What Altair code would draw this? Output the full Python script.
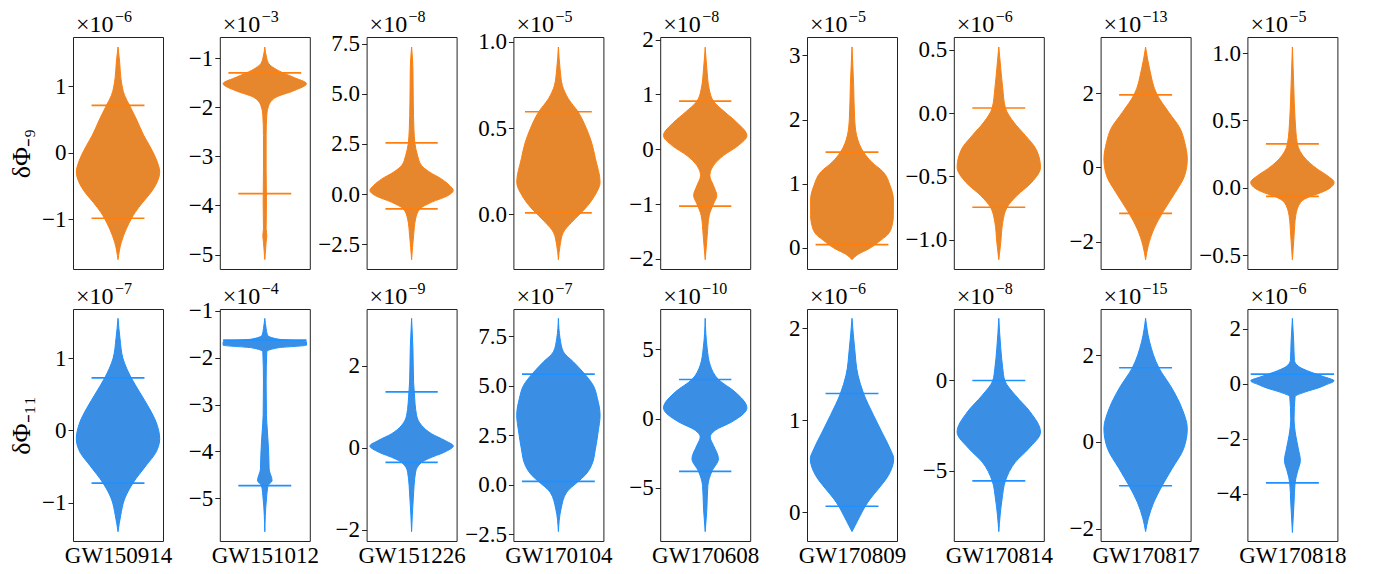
import altair as alt
import pandas as pd

EVENTS = ["GW150914", "GW151012", "GW151226", "GW170104", "GW170608",
          "GW170809", "GW170814", "GW170817", "GW170818"]
TOP_EXP = ["−6", "−3", "−8", "−5", "−8", "−5", "−6", "−13", "−5"]
BOT_EXP = ["−7", "−4", "−9", "−7", "−10", "−6", "−8", "−15", "−6"]
TOP_LABEL = "δΦ₋₉"
BOT_LABEL = "δΦ₋₁₁"

# ---------------- top row (dPhi_-9) : violin profiles (y, half-width) ----------------
T1_Y = [1.593, 1.367, 1.116, 0.864, 0.714, 0.513, 0.261, 0.111, -0.090, -0.291, -0.442, -0.593, -0.744, -0.894, -0.995, -1.146, -1.347, -1.608]
T1_W = [0, 5, 9, 20, 35, 55, 78, 95, 115, 126, 118, 100, 75, 52, 40, 25, 10, 0]
T1_LY = [0.714, -0.985]
T1_LW = [80, 80]
T1_DOM = [-1.749, 1.744]
T1_TICKS = [-1, 0, 1]

T2_Y = [-0.776, -0.98, -1.115, -1.251, -1.387, -1.523, -1.659, -1.794, -1.964, -2.168, -2.575, -3.254, -3.933, -4.476, -4.612, -4.747, -5.1]
T2_W = [0, 5, 12, 40, 85, 126, 90, 35, 12, 6, 4, 4, 5, 4, 6, 4, 0]
T2_LY = [-1.30, -3.76]
T2_LW = [110, 80]
T2_DOM = [-5.292, -0.572]
T2_TICKS = [-5, -4, -3, -2, -1]

T3_Y = [7.326, 6.246, 4.585, 3.256, 2.525, 1.927, 1.429, 1.096, 0.764, 0.432, 0.183, -0.066, -0.399, -0.731, -1.229, -2.06, -3.256]
T3_W = [0, 4, 5, 7, 10, 18, 30, 55, 90, 115, 126, 110, 60, 25, 12, 6, 0]
T3_LY = [2.56, -0.73]
T3_LW = [79, 79]
T3_DOM = [-3.72, 7.824]
T3_TICKS = [-2.5, 0, 2.5, 5, 7.5]

T4_Y = [0.971, 0.845, 0.748, 0.671, 0.593, 0.496, 0.419, 0.322, 0.186, 0.109, 0.031, -0.008, -0.047, -0.105, -0.182, -0.264]
T4_W = [0, 5, 12, 30, 60, 85, 100, 112, 126, 110, 80, 60, 40, 15, 5, 0]
T4_LY = [0.595, 0.008]
T4_LW = [101, 101]
T4_DOM = [-0.318, 1.029]
T4_TICKS = [0, 0.5, 1.0]

T5_Y = [1.863, 1.467, 1.102, 0.877, 0.676, 0.493, 0.250, 0.067, -0.116, -0.298, -0.481, -0.664, -0.846, -0.998, -1.212, -1.577, -2.015]
T5_W = [0, 5, 12, 25, 60, 95, 126, 100, 55, 25, 14, 25, 35, 25, 12, 6, 0]
T5_LY = [0.877, -1.04]
T5_LW = [79, 79]
T5_DOM = [-2.186, 2.049]
T5_TICKS = [-2, -1, 0, 1, 2]

T6_Y = [3.131, 2.532, 2.012, 1.752, 1.492, 1.336, 1.180, 0.972, 0.764, 0.504, 0.296, 0.192, 0.114, 0.052, -0.016, -0.094, -0.182]
T6_W = [0, 5, 8, 14, 35, 60, 95, 115, 125, 125, 118, 105, 85, 70, 50, 20, 0]
T6_LY = [1.492, 0.052]
T6_LW = [80, 110]
T6_DOM = [-0.328, 3.286]
T6_TICKS = [0, 1, 2, 3]

T7_Y = [0.521, 0.350, 0.192, 0.040, -0.071, -0.176, -0.282, -0.427, -0.545, -0.650, -0.743, -0.861, -1.019, -1.156]
T7_W = [0, 6, 12, 20, 45, 80, 112, 126, 100, 55, 25, 12, 6, 0]
T7_LY = [0.04, -0.743]
T7_LW = [80, 80]
T7_DOM = [-1.23, 0.60]
T7_TICKS = [-1.0, -0.5, 0.0, 0.5]

T8_Y = [3.236, 2.652, 1.951, 1.483, 1.034, 0.674, 0.225, -0.225, -0.674, -1.240, -1.663, -2.112, -2.490]
T8_W = [0, 12, 35, 70, 105, 118, 126, 118, 90, 50, 25, 8, 0]
T8_LY = [1.951, -1.24]
T8_LW = [80, 80]
T8_DOM = [-2.74, 3.51]
T8_TICKS = [-2, 0, 2]

T9_Y = [1.045, 0.760, 0.512, 0.327, 0.215, 0.141, 0.092, 0.042, -0.007, -0.045, -0.062, -0.106, -0.205, -0.354, -0.532]
T9_W = [0, 4, 8, 15, 40, 75, 105, 126, 110, 75, 55, 25, 10, 5, 0]
T9_LY = [0.327, -0.062]
T9_LW = [80, 80]
T9_DOM = [-0.601, 1.119]
T9_TICKS = [-0.5, 0.0, 0.5, 1.0]

# ---------------- bottom row (dPhi_-11) ----------------
B1_Y = [1.551, 1.273, 0.995, 0.727, 0.532, 0.301, 0.116, -0.116, -0.301, -0.486, -0.731, -0.949, -1.181, -1.403]
B1_W = [0, 6, 15, 40, 65, 95, 115, 126, 115, 85, 45, 20, 8, 0]
B1_LY = [0.727, -0.731]
B1_LW = [80, 80]
B1_DOM = [-1.532, 1.68]
B1_TICKS = [-1, 0, 1]

B2_Y = [-1.164, -1.378, -1.520, -1.606, -1.663, -1.734, -1.791, -1.877, -2.519, -3.232, -3.588, -3.802, -4.087, -4.373, -4.622, -4.729, -5.014, -5.713]
B2_W = [0, 4, 8, 40, 126, 126, 40, 6, 4, 5, 8, 10, 12, 13, 22, 10, 5, 0]
B2_LY = [-1.627, -4.73]
B2_LW = [126, 80]
B2_DOM = [-5.91, -0.964]
B2_TICKS = [-5, -4, -3, -2, -1]

B3_Y = [3.159, 2.424, 1.608, 1.363, 0.792, 0.547, 0.343, 0.180, 0.041, -0.106, -0.269, -0.359, -0.596, -1.249, -2.049]
B3_W = [0, 4, 6, 8, 15, 30, 60, 100, 126, 100, 50, 30, 12, 5, 0]
B3_LY = [1.363, -0.359]
B3_LW = [79, 79]
B3_DOM = [-2.278, 3.388]
B3_TICKS = [-2, 0, 2]

B4_Y = [8.412, 7.399, 6.723, 6.216, 5.591, 5.034, 4.358, 3.514, 2.669, 1.824, 0.980, 0.473, 0.169, -0.372, -1.216, -2.365]
B4_W = [0, 5, 15, 45, 80, 105, 118, 126, 120, 112, 100, 80, 60, 25, 8, 0]
B4_LY = [5.591, 0.169]
B4_LW = [110, 110]
B4_DOM = [-2.84, 8.885]
B4_TICKS = [-2.5, 0, 2.5, 5, 7.5]

B5_Y = [7.229, 5.060, 3.855, 2.819, 1.928, 0.771, -0.241, -0.843, -1.325, -1.928, -2.892, -3.807, -4.819, -6.506, -8.145]
B5_W = [0, 6, 15, 40, 90, 126, 80, 30, 15, 25, 40, 20, 8, 5, 0]
B5_LY = [2.819, -3.807]
B5_LW = [79, 79]
B5_DOM = [-8.82, 7.9]
B5_TICKS = [-5, 0, 5]

B6_Y = [2.109, 1.782, 1.491, 1.291, 1.055, 0.873, 0.691, 0.582, 0.400, 0.255, 0.145, 0.065, -0.036, -0.211]
B6_W = [0, 8, 18, 35, 65, 90, 115, 126, 110, 80, 55, 40, 25, 0]
B6_LY = [1.291, 0.065]
B6_LW = [80, 80]
B6_DOM = [-0.313, 2.21]
B6_TICKS = [0, 1, 2]

B7_Y = [3.444, 1.778, 0.667, 0.0, -0.815, -1.741, -2.852, -3.778, -4.519, -5.556, -6.556, -8.370]
B7_W = [0, 6, 12, 18, 50, 95, 126, 90, 50, 20, 10, 0]
B7_LY = [0.0, -5.556]
B7_LW = [80, 80]
B7_DOM = [-8.89, 3.96]
B7_TICKS = [-5, 0]

B8_Y = [2.846, 2.308, 1.708, 1.231, 0.769, 0.308, -0.154, -0.615, -1.008, -1.385, -1.769, -2.062]
B8_W = [0, 12, 40, 80, 110, 126, 115, 80, 50, 25, 8, 0]
B8_LY = [1.708, -1.008]
B8_LW = [80, 80]
B8_DOM = [-2.28, 3.06]
B8_TICKS = [-2, 0, 2]

B9_Y = [2.37, 1.5, 0.85, 0.61, 0.42, 0.25, 0.10, -0.05, -0.15, -0.30, -0.48, -1.28, -1.88, -2.37, -2.79, -3.22, -3.61, -4.31, -5.41]
B9_W = [0, 4, 6, 20, 55, 95, 126, 100, 80, 40, 8, 5, 10, 18, 24, 15, 8, 5, 0]
B9_LY = [0.34, -3.61]
B9_LW = [126, 80]
B9_DOM = [-5.72, 2.71]
B9_TICKS = [-4, -2, 0, 2]

TOP = [
    (T1_Y, T1_W, T1_LY, T1_LW, T1_DOM, T1_TICKS, "d"),
    (T2_Y, T2_W, T2_LY, T2_LW, T2_DOM, T2_TICKS, "d"),
    (T3_Y, T3_W, T3_LY, T3_LW, T3_DOM, T3_TICKS, ".1f"),
    (T4_Y, T4_W, T4_LY, T4_LW, T4_DOM, T4_TICKS, ".1f"),
    (T5_Y, T5_W, T5_LY, T5_LW, T5_DOM, T5_TICKS, "d"),
    (T6_Y, T6_W, T6_LY, T6_LW, T6_DOM, T6_TICKS, "d"),
    (T7_Y, T7_W, T7_LY, T7_LW, T7_DOM, T7_TICKS, ".1f"),
    (T8_Y, T8_W, T8_LY, T8_LW, T8_DOM, T8_TICKS, "d"),
    (T9_Y, T9_W, T9_LY, T9_LW, T9_DOM, T9_TICKS, ".1f"),
]
BOT = [
    (B1_Y, B1_W, B1_LY, B1_LW, B1_DOM, B1_TICKS, "d"),
    (B2_Y, B2_W, B2_LY, B2_LW, B2_DOM, B2_TICKS, "d"),
    (B3_Y, B3_W, B3_LY, B3_LW, B3_DOM, B3_TICKS, "d"),
    (B4_Y, B4_W, B4_LY, B4_LW, B4_DOM, B4_TICKS, ".1f"),
    (B5_Y, B5_W, B5_LY, B5_LW, B5_DOM, B5_TICKS, "d"),
    (B6_Y, B6_W, B6_LY, B6_LW, B6_DOM, B6_TICKS, "d"),
    (B7_Y, B7_W, B7_LY, B7_LW, B7_DOM, B7_TICKS, "d"),
    (B8_Y, B8_W, B8_LY, B8_LW, B8_DOM, B8_TICKS, "d"),
    (B9_Y, B9_W, B9_LY, B9_LW, B9_DOM, B9_TICKS, "d"),
]

ORANGE_FILL, ORANGE_LINE = "#E6862D", "#FF7F0E"
BLUE_FILL, BLUE_LINE = "#3A8EE3", "#1E90FF"
SERIF = "Liberation Serif"
FS = 23
HALF = 136  # half-width of the x domain, same units as the violin widths


def panel(spec, exp, fill, line, ytitle, xtitle):
    ys, ws, ly, lw, dom, ticks, fmt = spec
    prof = pd.DataFrame({"y": ys, "w": ws}).sort_values("y")
    lines = pd.DataFrame({"y": ly, "w": lw})
    label = pd.DataFrame({"base": ["×10"], "exp": [exp]})
    xscale = alt.Scale(domain=[-HALF, HALF], nice=False, zero=False)
    yscale = alt.Scale(domain=dom, nice=False, zero=False)
    yaxis = alt.Axis(values=ticks, format=fmt, labelOverlap=False,
                     title=ytitle if ytitle else None, titlePadding=7,
                     titleFontSize=26)
    if xtitle:
        xaxis = alt.Axis(labels=False, ticks=False, domain=False, grid=False,
                         title=xtitle, titlePadding=3)
    else:
        xaxis = None
    area = alt.Chart(prof).transform_calculate(nw="-datum.w").mark_area(
        orient="horizontal", interpolate="monotone", fill=fill, fillOpacity=1,
        stroke=line, strokeWidth=1
    ).encode(
        y=alt.Y("y:Q", scale=yscale, axis=yaxis),
        x=alt.X("nw:Q", scale=xscale, axis=xaxis),
        x2="w:Q",
    )
    rules = alt.Chart(lines).transform_calculate(nw="-datum.w").mark_rule(
        color=line, strokeWidth=1.7
    ).encode(
        y=alt.Y("y:Q", scale=yscale, axis=yaxis),
        x=alt.X("nw:Q", scale=xscale, axis=xaxis),
        x2="w:Q",
    )
    base = alt.Chart(label).mark_text(
        font=SERIF, fontSize=24, align="left", baseline="alphabetic", color="black"
    ).encode(x=alt.value(3), y=alt.value(-5), text="base:N")
    sup = alt.Chart(label).mark_text(
        font=SERIF, fontSize=16, align="left", baseline="alphabetic", color="black"
    ).encode(x=alt.value(42), y=alt.value(-15), text="exp:N")
    return alt.layer(area, rules, base, sup).properties(width=90, height=232)


charts = []
for i, spec in enumerate(TOP):
    charts.append(panel(spec, TOP_EXP[i], ORANGE_FILL, ORANGE_LINE,
                        TOP_LABEL if i == 0 else None, None))
for i, spec in enumerate(BOT):
    charts.append(panel(spec, BOT_EXP[i], BLUE_FILL, BLUE_LINE,
                        BOT_LABEL if i == 0 else None, EVENTS[i]))

chart = alt.concat(
    *charts, columns=9, spacing={"row": 40, "column": 56.8}, bounds="flush"
).properties(
    padding={"left": 0, "top": 0, "right": 5, "bottom": 5}
).configure_view(
    stroke="#222222", strokeWidth=1
).configure_axis(
    labelFont=SERIF, labelFontSize=FS, labelColor="black", labelPadding=2,
    tickColor="#222222", tickSize=5, tickWidth=1, grid=False, domain=False,
    titleFont=SERIF, titleFontSize=FS, titleFontWeight="normal", titleColor="black",
)

chart.save("out.html", embed_options={"renderer": "svg", "actions": False})
